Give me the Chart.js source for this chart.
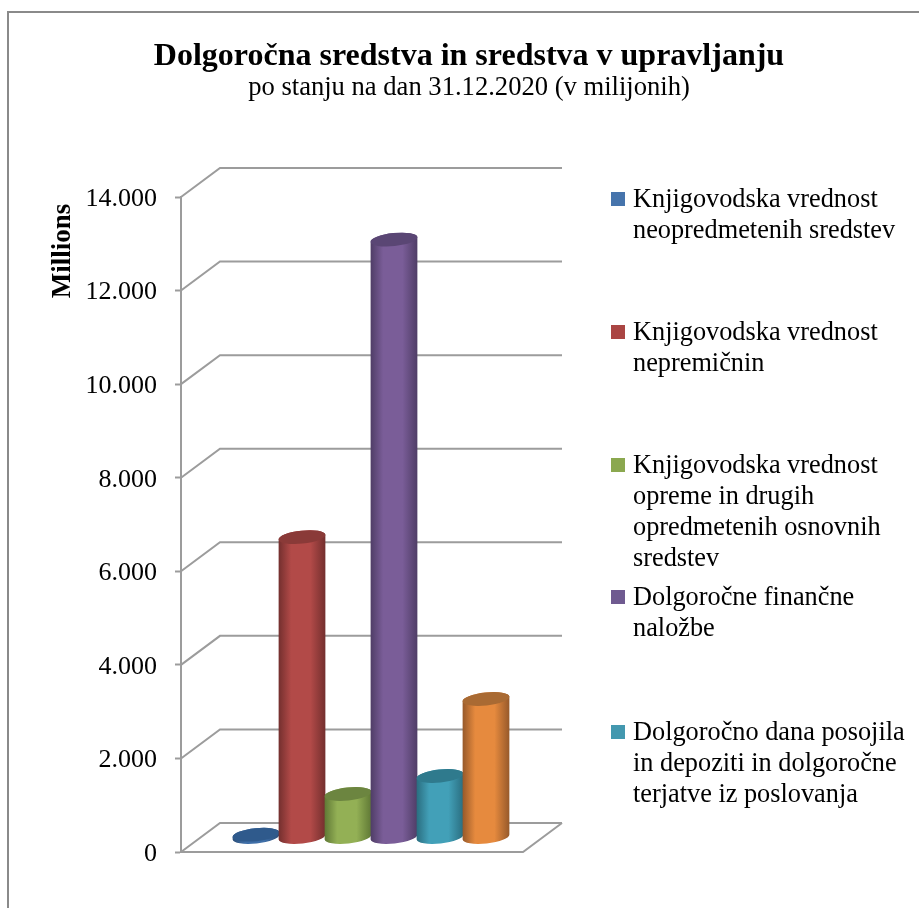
<!DOCTYPE html>
<html>
<head>
<meta charset="utf-8">
<style>html,body{margin:0;padding:0;background:#fff;overflow:hidden}canvas{display:block}</style>
<script src="https://cdn.jsdelivr.net/npm/chart.js@4"></script>
</head>
<body>
<canvas id="c" width="919" height="908"></canvas>
<script>
const categories = [''];
const seriesNames = [
  'Knjigovodska vrednost neopredmetenih sredstev',
  'Knjigovodska vrednost nepremičnin',
  'Knjigovodska vrednost opreme in drugih opredmetenih osnovnih sredstev',
  'Dolgoročne finančne naložbe',
  'Dolgoročno dana posojila in depoziti in dolgoročne terjatve iz poslovanja',
  'Druga dolgoročna sredstva'
];
const legendLines = [
  ['Knjigovodska vrednost', 'neopredmetenih sredstev'],
  ['Knjigovodska vrednost', 'nepremičnin'],
  ['Knjigovodska vrednost', 'opreme in drugih', 'opredmetenih osnovnih', 'sredstev'],
  ['Dolgoročne finančne', 'naložbe'],
  ['Dolgoročno dana posojila', 'in depoziti in dolgoročne', 'terjatve iz poslovanja']
];
const seriesValues = [60, 6420, 930, 12780, 1315, 2960];
const legendColors = ['#4674AC', '#AA4543', '#8BA84F', '#6F5A90', '#4398AF', '#DC8540'];
const midColors = ['#3F6FA8', '#B24A48', '#93B055', '#7A5D98', '#42A0B8', '#E68A3E'];
const edgeColors = ['#2C4E78', '#732F2E', '#5F7835', '#4F3D66', '#2A6D7F', '#96592A'];
const topColors = ['#2F5A8C', '#8A3A38', '#6C8540', '#5A4674', '#2F7A8D', '#A96A33'];
const titleText = 'Dolgoročna sredstva in sredstva v upravljanju';
const subtitleText = 'po stanju na dan 31.12.2020 (v milijonih)';
const axisTitle = 'Millions ';
const FONT = '"Liberation Serif","Times New Roman",serif';
const GRID = '#9C9C9C';
const DX = 39, DY = 29;

const frame = {
  id: 'frame',
  beforeDraw(chart) {
    const c = chart.ctx;
    c.save();
    c.fillStyle = '#fff';
    c.fillRect(0, 0, chart.width, chart.height);
    c.strokeStyle = '#8A8A8A';
    c.lineWidth = 2;
    c.beginPath();
    c.moveTo(8, chart.height);
    c.lineTo(8, 12);
    c.lineTo(chart.width, 12);
    c.stroke();
    c.restore();
  }
};

const walls = {
  id: 'walls',
  beforeDatasetsDraw(chart) {
    const c = chart.ctx, y = chart.scales.y, a = chart.chartArea;
    c.save();
    c.strokeStyle = GRID;
    c.lineWidth = 2;
    y.ticks.forEach(t => {
      const p = y.getPixelForValue(t.value);
      c.beginPath();
      c.moveTo(a.left, p);
      c.lineTo(a.left + DX, p - DY);
      c.lineTo(a.right + DX, p - DY);
      c.stroke();
    });
    c.beginPath();
    c.moveTo(a.left, a.bottom);
    c.lineTo(a.right, a.bottom);
    c.lineTo(a.right + DX, a.bottom - DY);
    c.stroke();
    c.restore();
  }
};

const cylinders = {
  id: 'cylinders',
  afterDatasetsDraw(chart) {
    const c = chart.ctx;
    const rot = -6 * Math.PI / 180;
    chart.data.datasets.forEach((ds, i) => {
      const el = chart.getDatasetMeta(i).data[0];
      const cx = el.x + DX / 2 - 0.5;
      const rx = el.width / 2 + 0.5;
      const ry = 6.5;
      const top = el.y - DY / 2;
      const base = el.base - DY / 2;
      c.save();
      const g = c.createLinearGradient(cx - rx, 0, cx + rx, 0);
      g.addColorStop(0, edgeColors[i]);
      g.addColorStop(0.27, midColors[i]);
      g.addColorStop(0.68, midColors[i]);
      g.addColorStop(1, edgeColors[i]);
      c.fillStyle = g;
      c.beginPath();
      c.ellipse(cx, base, rx, ry, rot, Math.PI, 0, true);
      c.ellipse(cx, top, rx, ry, rot, 0, Math.PI, true);
      c.closePath();
      c.fill();
      c.fillStyle = topColors[i];
      c.beginPath();
      c.ellipse(cx, top, rx, ry, rot, 0, Math.PI * 2);
      c.fill();
      c.restore();
    });
  }
};

const sideLegend = {
  id: 'sideLegend',
  afterDraw(chart) {
    const c = chart.ctx;
    const starts = [200, 333, 466, 598, 733];
    c.save();
    c.font = '26.3px ' + FONT;
    c.textBaseline = 'middle';
    c.textAlign = 'left';
    legendLines.forEach((lines, i) => {
      c.fillStyle = legendColors[i];
      c.fillRect(611, starts[i] - 8, 14, 14);
      c.fillStyle = '#000';
      lines.forEach((t, k) => c.fillText(t, 633, starts[i] + k * 31));
    });
    c.restore();
  }
};

new Chart(document.getElementById('c'), {
  type: 'bar',
  data: {
    labels: categories,
    datasets: seriesNames.map((n, i) => ({
      label: n,
      data: [seriesValues[i]],
      backgroundColor: 'rgba(0,0,0,0)',
      borderWidth: 0,
      barPercentage: 1,
      categoryPercentage: 0.807
    }))
  },
  plugins: [frame, walls, cylinders, sideLegend],
  options: {
    responsive: false,
    animation: false,
    devicePixelRatio: 1,
    layout: { padding: { left: 19, right: 0, top: 0, bottom: 56 } },
    plugins: {
      legend: { display: false },
      tooltip: { enabled: false },
      title: {
        display: true,
        text: titleText,
        color: '#000',
        font: { family: FONT, size: 32, weight: 'bold', lineHeight: '34px' },
        padding: { top: 40, bottom: 0 }
      },
      subtitle: {
        display: true,
        text: subtitleText,
        color: '#000',
        font: { family: FONT, size: 26.6, weight: 'normal', lineHeight: '28px' },
        padding: { top: 0, bottom: 95 }
      }
    },
    scales: {
      x: { display: false },
      y: {
        min: 0,
        max: 14000,
        afterFit(s) { s.width = 162; },
        border: { display: true, color: GRID, width: 2 },
        grid: { drawOnChartArea: false, drawTicks: true, tickLength: 6, tickColor: GRID, tickWidth: 2 },
        ticks: {
          stepSize: 2000,
          padding: 18,
          labelOffset: 2,
          color: '#000',
          font: { family: FONT, size: 26 },
          callback: v => v === 0 ? '0' : String(v).replace(/(\d)(\d{3})$/, '$1.$2')
        },
        title: {
          display: true,
          text: axisTitle,
          align: 'end',
          color: '#000',
          font: { family: FONT, size: 27, weight: 'bold', lineHeight: 1.2 },
          padding: { top: 28, bottom: 0 }
        }
      },
      spacer: {
        type: 'linear',
        axis: 'y',
        position: 'right',
        display: false,
        afterFit(s) { s.width = 396; }
      }
    }
  }
});
</script>
</body>
</html>
